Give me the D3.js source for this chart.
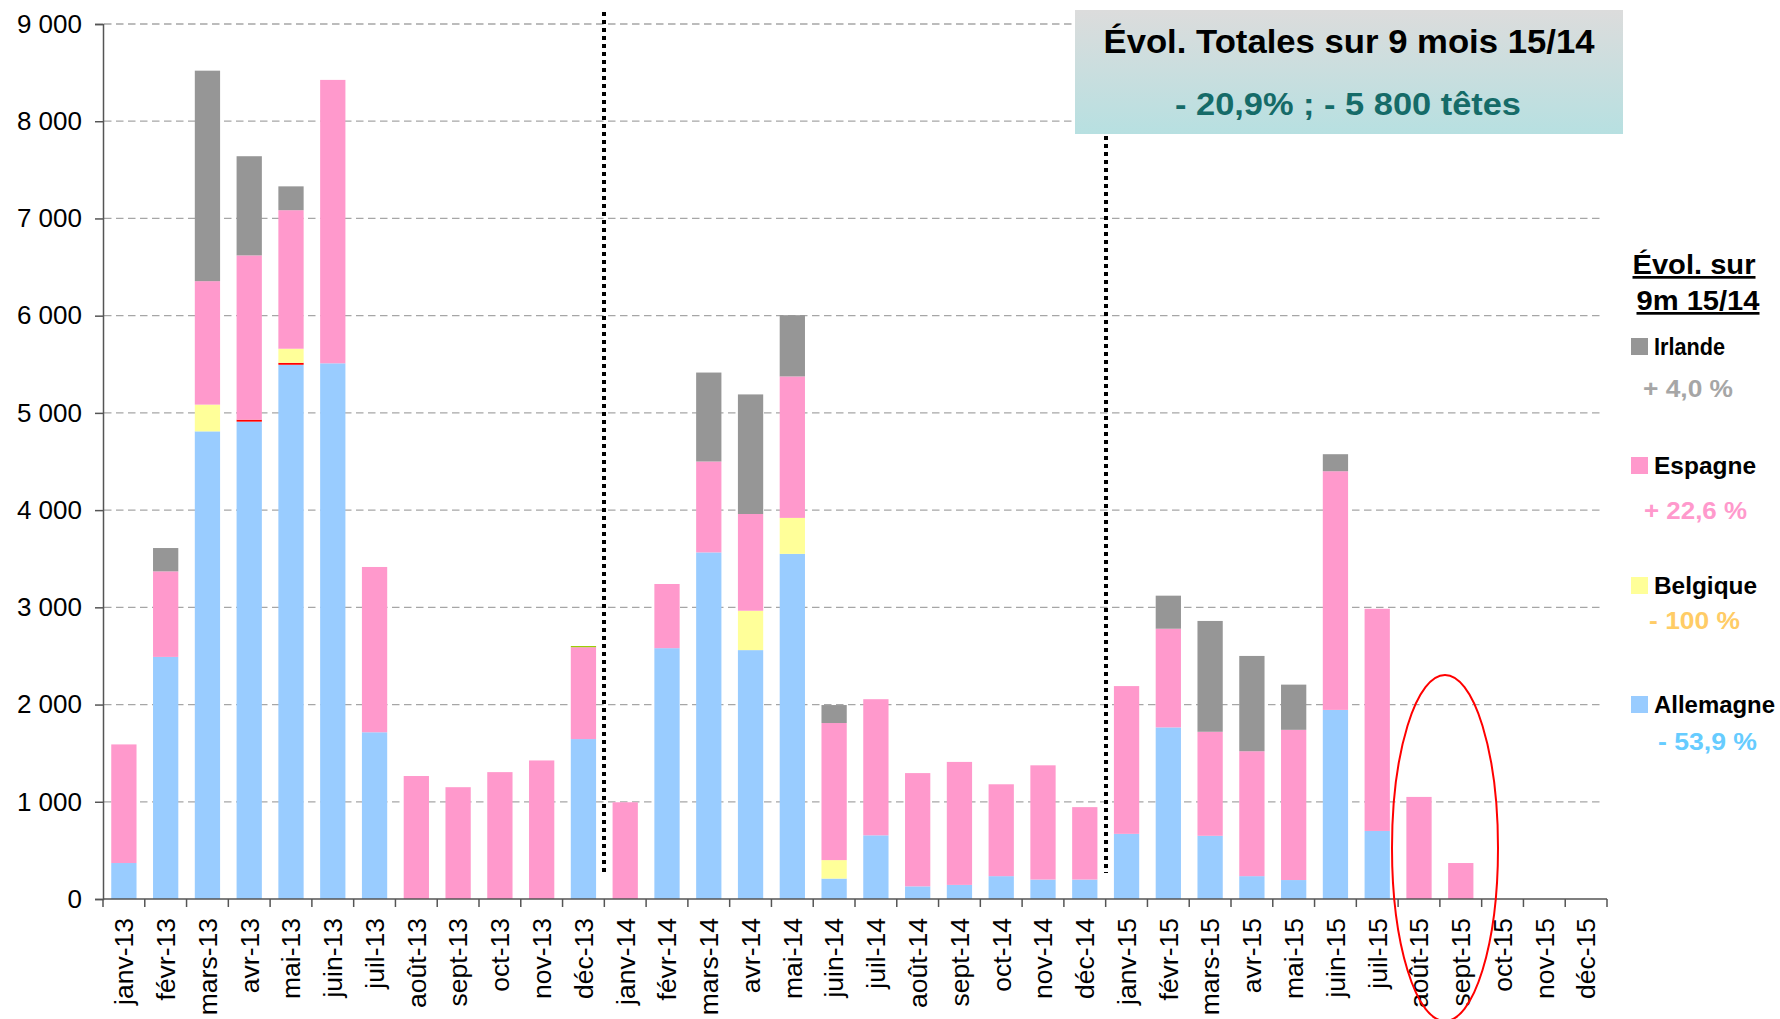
<!DOCTYPE html>
<html><head><meta charset="utf-8">
<script src="https://cdn.jsdelivr.net/npm/d3@7"></script>
<style>
html,body{margin:0;padding:0;background:#fff;}
svg{display:block;}
</style></head>
<body>
<svg id="chart" width="1780" height="1019"></svg>
<script>
const months = ["janv-13","févr-13","mars-13","avr-13","mai-13","juin-13","juil-13","août-13","sept-13","oct-13","nov-13","déc-13",
"janv-14","févr-14","mars-14","avr-14","mai-14","juin-14","juil-14","août-14","sept-14","oct-14","nov-14","déc-14",
"janv-15","févr-15","mars-15","avr-15","mai-15","juin-15","juil-15","août-15","sept-15","oct-15","nov-15","déc-15"];

const allemagne = [370,2490,4810,4910,5495,5510,1715,0,0,0,0,1645, 0,2580,3565,2560,3550,210,655,130,145,235,200,200, 670,1765,650,235,195,1945,700,0,0,0,0,0];
const autreRouge = [0,0,0,20,20,0,0,0,0,0,0,0, 0,0,0,0,0,0,0,0,0,0,0,0, 0,0,0,0,0,0,0,0,0,0,0,0];
const belgique = [0,0,275,0,145,0,0,0,0,0,0,0, 0,0,0,405,370,190,0,0,0,0,0,0, 0,0,0,0,0,0,0,0,0,0,0,0];
const espagne = [1220,880,1270,1690,1425,2915,1700,1265,1150,1305,1425,945, 995,660,935,995,1455,1410,1400,1165,1265,945,1175,745, 1520,1015,1070,1285,1545,2455,2285,1050,370,0,0,0];
const autreVert = [0,0,0,0,0,0,0,0,0,0,0,12, 0,0,0,0,0,0,0,0,0,0,0,0, 0,0,0,0,0,0,0,0,0,0,0,0];
const irlande = [0,240,2165,1020,245,0,0,0,0,0,0,0, 0,0,915,1230,630,185,0,0,0,0,0,0, 0,340,1140,980,465,175,0,0,0,0,0,0];

const yTicks = [0,1000,2000,3000,4000,5000,6000,7000,8000,9000];

const seriesKeys = ["Allemagne","AutreRouge","Belgique","Espagne","AutreVert","Irlande"];
const seriesColors = {"Allemagne":"#99ccff","AutreRouge":"#ff0000","Belgique":"#ffff99","Espagne":"#ff99cc","AutreVert":"#99cc00","Irlande":"#969696"};

const legendItems = [
  {name:"Irlande", evol:"+ 4,0 %", color:"#969696", txt:"#a6a6a6"},
  {name:"Espagne", evol:"+ 22,6 %", color:"#ff99cc", txt:"#ff99cc"},
  {name:"Belgique", evol:"- 100 %", color:"#ffff99", txt:"#ffcc66"},
  {name:"Allemagne", evol:"- 53,9 %", color:"#99ccff", txt:"#66ccff"}
];

const table = months.map((m,i)=>({month:m, Allemagne:allemagne[i], AutreRouge:autreRouge[i], Belgique:belgique[i], Espagne:espagne[i], AutreVert:autreVert[i], Irlande:irlande[i]}));

const svg = d3.select("#chart");
const x = d3.scaleBand().domain(months).range([103,1607]).paddingInner(0.395).paddingOuter(0.1975);
const y = d3.scaleLinear().domain([0,9000]).range([899,24]);

const NARROW = "'Liberation Sans Narrow','Arial Narrow','Liberation Sans',Arial,sans-serif";
const SANS = "'Liberation Sans',Arial,sans-serif";

// gridlines
svg.append("g").selectAll("line").data(yTicks.filter(d=>d>0)).join("line")
  .attr("x1",104).attr("x2",1602).attr("y1",d=>y(d)).attr("y2",d=>y(d))
  .attr("stroke","#a6a6a6").attr("stroke-width",1.3).attr("stroke-dasharray","7.5,4.5");

// bars
const stack = d3.stack().keys(seriesKeys)(table);
svg.append("g").selectAll("g").data(stack).join("g")
  .attr("fill",d=>seriesColors[d.key])
  .selectAll("rect").data(d=>d.filter(p=>p[1]-p[0]>0)).join("rect")
  .attr("x",d=>x(d.data.month)).attr("width",x.bandwidth())
  .attr("y",d=>y(d[1])).attr("height",d=>y(d[0])-y(d[1]));

// dotted separators
const step = x.step();
const sep1 = Math.round(103+12*step), sep2 = Math.round(103+24*step);
svg.append("line").attr("x1",sep1).attr("x2",sep1).attr("y1",12).attr("y2",873)
  .attr("stroke","#000").attr("stroke-width",4).attr("stroke-dasharray","4,4");
svg.append("line").attr("x1",sep2).attr("x2",sep2).attr("y1",136).attr("y2",873)
  .attr("stroke","#000").attr("stroke-width",4).attr("stroke-dasharray","4,4");

// y axis
const yAxis = svg.append("g").attr("transform","translate(103,0)")
  .call(d3.axisLeft(y).tickValues(yTicks).tickSize(8).tickPadding(13)
    .tickFormat(d=>d3.format(",")(d).replace(/,/g," ")));
yAxis.select(".domain").attr("stroke","#555").attr("stroke-width",1.5);
yAxis.selectAll(".tick line").attr("stroke","#555").attr("stroke-width",1.5);
yAxis.selectAll("text").attr("font-family",SANS).attr("font-size",26).attr("fill","#000");

// x axis
const xAxisG = svg.append("g").attr("transform","translate(0,899)");
xAxisG.append("line").attr("x1",103).attr("x2",1607).attr("y1",0).attr("y2",0).attr("stroke","#555").attr("stroke-width",1.5);
xAxisG.selectAll("line.tk").data(d3.range(37)).join("line").attr("class","tk")
  .attr("x1",i=>103+i*step).attr("x2",i=>103+i*step).attr("y1",0).attr("y2",8)
  .attr("stroke","#555").attr("stroke-width",1.5);
xAxisG.selectAll("text").data(months).join("text")
  .attr("transform",d=>`translate(${x(d)+x.bandwidth()/2},19) rotate(-90)`)
  .attr("text-anchor","end").attr("dy","0.35em")
  .attr("font-family",SANS).attr("font-size",26.5).attr("fill","#000")
  .text(d=>d);

// title box
const defs = svg.append("defs");
const grad = defs.append("linearGradient").attr("id","boxg").attr("x1",0).attr("y1",0).attr("x2",0).attr("y2",1);
grad.append("stop").attr("offset","0%").attr("stop-color","#dcdcdc");
grad.append("stop").attr("offset","100%").attr("stop-color","#b7e0e1");
svg.append("rect").attr("x",1075).attr("y",10).attr("width",548).attr("height",124).attr("fill","url(#boxg)");
svg.append("text").attr("x",1349).attr("y",53).attr("text-anchor","middle")
  .attr("font-family",NARROW).attr("font-weight","bold").attr("font-size",33).attr("fill","#000")
  .attr("textLength",491).attr("lengthAdjust","spacingAndGlyphs")
  .text("Évol. Totales sur 9 mois 15/14");
svg.append("text").attr("x",1348).attr("y",115).attr("text-anchor","middle")
  .attr("font-family",NARROW).attr("font-weight","bold").attr("font-size",32).attr("fill","#156b68")
  .attr("textLength",346).attr("lengthAdjust","spacingAndGlyphs")
  .text("- 20,9% ; - 5 800 têtes");

// legend header
svg.append("text").attr("x",1694).attr("y",274).attr("text-anchor","middle")
  .attr("font-family",NARROW).attr("font-weight","bold").attr("font-size",27).attr("fill","#000")
  .attr("text-decoration","underline").attr("textLength",123).attr("lengthAdjust","spacingAndGlyphs")
  .text("Évol. sur");
svg.append("text").attr("x",1698).attr("y",310).attr("text-anchor","middle")
  .attr("font-family",NARROW).attr("font-weight","bold").attr("font-size",27).attr("fill","#000")
  .attr("text-decoration","underline").attr("textLength",123).attr("lengthAdjust","spacingAndGlyphs")
  .text("9m 15/14");

const legY = [355,474,594,713];
const evolY = [397,519,629,750];
const nameW = [71,102,103,121];
const evolX = [1643,1644,1649,1658];
const evolW = [90,103,91,99];
const lg = svg.append("g");
legendItems.forEach((it,i)=>{
  lg.append("rect").attr("x",1631).attr("y",legY[i]-17).attr("width",17).attr("height",17).attr("fill",it.color);
  lg.append("text").attr("x",1654).attr("y",legY[i])
    .attr("font-family",NARROW).attr("font-weight","bold").attr("font-size",24).attr("fill","#000")
    .attr("textLength",nameW[i]).attr("lengthAdjust","spacingAndGlyphs").text(it.name);
  lg.append("text").attr("x",evolX[i]).attr("y",evolY[i])
    .attr("font-family",NARROW).attr("font-weight","bold").attr("font-size",24).attr("fill",it.txt)
    .attr("textLength",evolW[i]).attr("lengthAdjust","spacingAndGlyphs").text(it.evol);
});

// red ellipse annotation
svg.append("ellipse").attr("cx",1445).attr("cy",848).attr("rx",53).attr("ry",173)
  .attr("fill","none").attr("stroke","#ff0000").attr("stroke-width",2);
</script>
</body></html>
